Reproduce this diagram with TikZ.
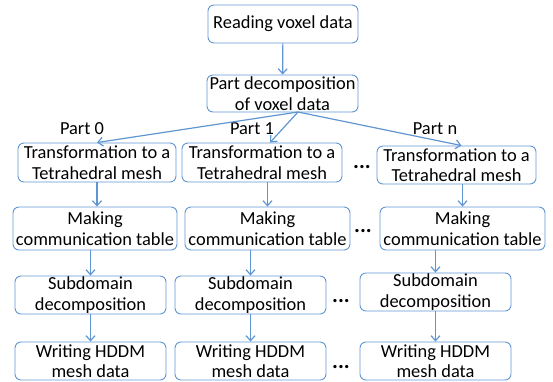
\documentclass[tikz,border=0pt]{standalone}
\usepackage{fontspec}
\setmainfont{Carlito}
\usepackage{xcolor}
\usepackage{tikz}
\usetikzlibrary{arrows.meta}
\definecolor{flowblue}{RGB}{95,150,210}

\begin{document}
\begin{tikzpicture}[x=1pt,y=-1pt,->,>={Straight Barb[length=5pt,width=9pt]},
  line width=1.2pt,
  box/.style={rectangle,draw=flowblue,line width=0.9pt,rounded corners=6pt,inner sep=0pt,align=center,font=\fontsize{18.4}{20.5}\selectfont},
  link/.style={draw=flowblue},
  lbl/.style={font=\fontsize{18.4}{20.5}\selectfont,inner sep=0pt},
  dots/.style={font=\fontsize{22}{24}\selectfont\bfseries,inner sep=0pt}]
\useasboundingbox (0,0) rectangle (553,381);
\node[box,minimum width=150pt,minimum height=38pt] (read) at (283,24) {Reading voxel data};
\node[box,minimum width=151pt,minimum height=37pt] (part) at (282.5,93.5) {Part decomposition\\of voxel data};
\coordinate (split) at (298,112);
% column 0
\node[box,minimum width=158pt,minimum height=39pt] (t0) at (97,162.5) {Transformation to a\\Tetrahedral mesh};
\node[box,minimum width=164pt,minimum height=43pt] (m0) at (95,228.5) {Making\\communication table};
\node[box,minimum width=151pt,minimum height=38pt] (s0) at (90.5,295) {Subdomain\\decomposition};
\node[box,minimum width=151pt,minimum height=38pt] (w0) at (90.5,361) {Writing HDDM\\mesh data};
% column 1
\node[box,minimum width=160pt,minimum height=39pt] (t1) at (262,162.5) {Transformation to a\\Tetrahedral mesh};
\node[box,minimum width=165pt,minimum height=43pt] (m1) at (267.5,228.5) {Making\\communication table};
\node[box,minimum width=151pt,minimum height=38pt] (s1) at (250.5,295) {Subdomain\\decomposition};
\node[box,minimum width=151pt,minimum height=38pt] (w1) at (250.5,361) {Writing HDDM\\mesh data};
% column n
\node[box,minimum width=159pt,minimum height=38pt] (t2) at (456.5,165) {Transformation to a\\Tetrahedral mesh};
\node[box,minimum width=165pt,minimum height=43pt] (m2) at (462.5,228.5) {Making\\communication table};
\node[box,minimum width=151pt,minimum height=38pt] (s2) at (435.5,292) {Subdomain\\decomposition};
\node[box,minimum width=151pt,minimum height=38pt] (w2) at (435.5,361) {Writing HDDM\\mesh data};
% labels and dots
\node[lbl] (p0) at (82,129) {Part 0};
\node[lbl] (p1) at (252,129) {Part 1};
\node[lbl] (pn) at (435,129) {Part n};
\node[dots] (d1) at (362,167) {...};
\node[dots] (d2) at (363,231) {...};
\node[dots] (d3) at (341,301) {...};
\node[dots] (d4) at (341,367) {...};
% arrows
\draw[link] (read) -- (part);
\draw[link] (split) -- (t0.north);
\draw[link] (split) -- ([xshift=8pt]t1.north);
\draw[link] (split) -- ([xshift=5pt]t2.north);
\draw[link] (t0) -- (t0 |- m0.north);
\draw[link] (m0.south -| s0) -- (s0);
\draw[link] (s0) -- (w0);
\draw[link] (t1.south -| m1) -- (m1);
\draw[link] (m1.south -| s1) -- (s1);
\draw[link] (s1) -- (w1);
\draw[link] (t2.south -| m2) -- (m2);
\draw[link] (m2.south -| s2) -- (s2);
\draw[link] (s2) -- (w2);
\end{tikzpicture}
\end{document}
